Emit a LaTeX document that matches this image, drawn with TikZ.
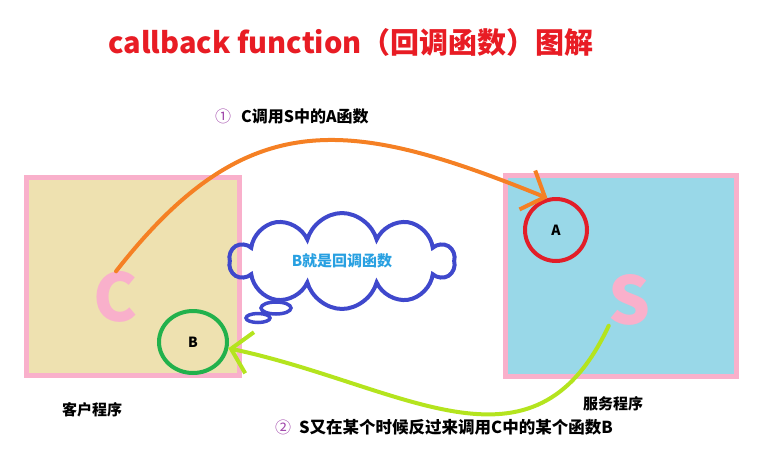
\documentclass[tikz,border=0pt]{standalone}
\usepackage{fontspec}
\setmainfont{Noto Sans CJK SC}
\usetikzlibrary{arrows.meta,shapes.symbols,shapes.geometric}
\definecolor{titlered}{RGB}{232,28,36}
\definecolor{boxpink}{RGB}{249,176,203}
\definecolor{clientfill}{RGB}{238,225,176}
\definecolor{serverfill}{RGB}{153,216,232}
\definecolor{callorange}{RGB}{245,128,36}
\definecolor{backgreen}{RGB}{180,228,30}
\definecolor{cloudblue}{RGB}{63,72,204}
\definecolor{cloudtext}{RGB}{40,160,225}
\definecolor{circlegreen}{RGB}{34,177,76}
\definecolor{circlered}{RGB}{226,30,40}
\definecolor{numpurple}{RGB}{160,70,170}
\tikzset{
  progbox/.style={draw=boxpink,line width=5pt},
  bigletter/.style={text=boxpink,font=\fontsize{66}{66}\selectfont\bfseries,inner sep=0pt},
  funcircle/.style={circle,line width=4pt,inner sep=0pt,font=\fontsize{14}{14}\selectfont\bfseries},
  steplabel/.style={anchor=west,inner sep=0pt},
  proglabel/.style={inner sep=0pt,font=\fontsize{15}{15}\selectfont\bfseries},
  callline/.style={line width=4pt,line cap=round,-{Straight Barb[length=19pt,width=42pt]}}
}
\begin{document}
\begin{tikzpicture}[x=1pt,y=-1pt]
\useasboundingbox (0,0) rectangle (767,463);
\node[text=titlered,font=\fontsize{29}{29}\selectfont\bfseries] (title) at (351,42) {callback function（回调函数）图解};
\filldraw[progbox,fill=clientfill] (26,177) rectangle (239,375);
\filldraw[progbox,fill=serverfill] (505,175) rectangle (736,376);
\node[bigletter] (c) at (116,297) {C};
\node[bigletter] (s) at (630,300) {S};
\node[funcircle,draw=circlegreen,minimum width=68pt,minimum height=62pt,ellipse] (b) at (193,342) {B};
\node[funcircle,draw=circlered,minimum size=62pt] (a) at (556,230) {A};
\node[proglabel] (client) at (92,410) {客户程序};
\node[proglabel] (server) at (613,404) {服务程序};
% the thought cloud
\node[cloud,draw=cloudblue,line width=4pt,cloud puffs=10,aspect=2.4,minimum width=224pt,minimum height=90pt,
  text=cloudtext,font=\fontsize{15}{15}\selectfont\bfseries] (cloud) at (342,261) {B就是回调函数};
\draw[cloudblue,line width=3.5pt] (276,308) ellipse (15pt and 6pt);
\draw[cloudblue,line width=3.5pt] (258,318) ellipse (12pt and 4.5pt);
% calls
\draw[callline,callorange] (c.north) to[out=52,in=158,looseness=1.25] (a.105);
\draw[callline,backgreen] (s.south west) to[out=-115,in=-12,looseness=1.2] (b.-10);
\node[steplabel] (one) at (215,116) {\fontsize{16}{16}\selectfont\textcolor{numpurple}{①}\hspace{10pt}\bfseries C调用S中的A函数};
\node[steplabel] (two) at (275,427) {\fontsize{16}{16}\selectfont\textcolor{numpurple}{②}\hspace{8pt}\fontsize{16.5}{16.5}\selectfont\bfseries S又在某个时候反过来调用C中的某个函数B};
\end{tikzpicture}
\end{document}
